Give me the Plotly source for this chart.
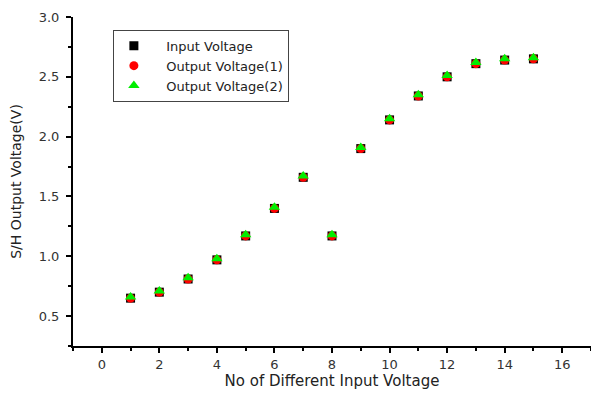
import plotly.graph_objects as go

x_vals = list(range(1, 16))
input_voltage = [0.65, 0.70, 0.81, 0.97, 1.17, 1.40, 1.66, 1.17, 1.90, 2.14, 2.34, 2.50, 2.61, 2.64, 2.65]
output_voltage_1 = [0.65, 0.70, 0.81, 0.97, 1.17, 1.40, 1.66, 1.17, 1.90, 2.14, 2.34, 2.50, 2.61, 2.64, 2.65]
output_voltage_2 = [0.66, 0.71, 0.82, 0.98, 1.18, 1.41, 1.67, 1.18, 1.91, 2.15, 2.35, 2.51, 2.62, 2.65, 2.66]
legend_names = ["Input Voltage", "Output Voltage(1)", "Output Voltage(2)"]

font = "DejaVu Sans, Arial, sans-serif"
pad = "\u00a0\u00a0\u00a0"

fig = go.Figure()
fig.add_trace(go.Scatter(x=x_vals, y=input_voltage, mode="markers", name=pad + legend_names[0],
                         marker=dict(symbol="square", size=9, color="black")))
fig.add_trace(go.Scatter(x=x_vals, y=output_voltage_1, mode="markers", name=pad + legend_names[1],
                         marker=dict(symbol="circle", size=9, color="red")))
fig.add_trace(go.Scatter(x=x_vals, y=output_voltage_2, mode="markers", name=pad + legend_names[2],
                         marker=dict(symbol="triangle-up", size=10, color="#00ee00")))

axis_common = dict(showline=True, linecolor="black", linewidth=2, mirror=False,
                   ticks="outside", ticklen=5, tickwidth=2, tickcolor="black",
                   showgrid=False, zeroline=False,
                   tickfont=dict(family=font, size=13, color="#333333"))

fig.update_layout(
    width=591, height=397,
    margin=dict(l=73, r=0, t=17, b=51),
    paper_bgcolor="white", plot_bgcolor="white",
    font=dict(family=font, color="#222222"),
    xaxis=dict(range=[-1, 17], dtick=2, tick0=0,
               minor=dict(dtick=1, ticks="outside", ticklen=3, tickwidth=2, tickcolor="black"),
               title=dict(text="No of Different Input Voltage", font=dict(family=font, size=15, color="#222222"), standoff=4),
               **axis_common),
    yaxis=dict(range=[0.25, 3.0], dtick=0.5, tick0=0, tickformat=".1f",
               ticklabelstandoff=4,
               minor=dict(dtick=0.25, ticks="outside", ticklen=3, tickwidth=2, tickcolor="black"),
               title=dict(text="S/H Output Voltage(V)", font=dict(family=font, size=14, color="#222222"), standoff=14),
               **axis_common),
    legend=dict(x=0.077, y=0.961, xanchor="left", yanchor="top",
                bordercolor="#444444", borderwidth=1, bgcolor="white",
                font=dict(family=font, size=13, color="#222222"),
                tracegroupgap=0, itemwidth=30),
    showlegend=True,
)

fig.write_html("out.html")
